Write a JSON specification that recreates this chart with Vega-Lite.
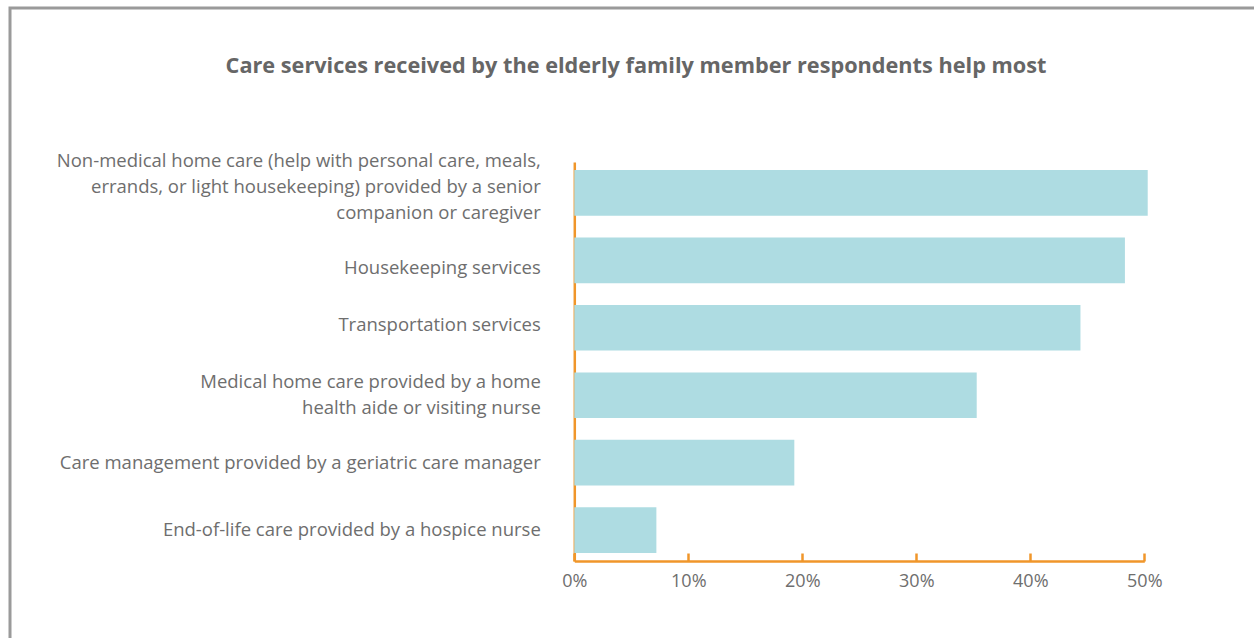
{
  "$schema": "https://vega.github.io/schema/vega-lite/v6.json",
  "width": 1252,
  "height": 640,
  "autosize": {"type": "none"},
  "padding": {"left": 10, "top": 8, "right": -8, "bottom": -10},
  "background": "white",
  "config": {
    "view": {"stroke": "#9a9a9a", "strokeWidth": 3},
    "font": "Open Sans"
  },
  "title": {
    "text": "Care services received by the elderly family member respondents help most",
    "font": "Open Sans",
    "fontSize": 21.7,
    "fontWeight": "bold",
    "color": "#666666",
    "anchor": "middle",
    "frame": "group",
    "offset": -70
  },
  "data": {
    "values": [
      {"service": "Non-medical home care (help with personal care, meals,|errands, or light housekeeping) provided by a senior|companion or caregiver", "share": 0.503},
      {"service": "Housekeeping services", "share": 0.483},
      {"service": "Transportation services", "share": 0.444},
      {"service": "Medical home care provided by a home|health aide or visiting nurse", "share": 0.353},
      {"service": "Care management provided by a geriatric care manager", "share": 0.193},
      {"service": "End-of-life care provided by a hospice nurse", "share": 0.072}
    ]
  },
  "mark": {"type": "bar", "color": "#AEDCE2"},
  "encoding": {
    "y": {
      "field": "service",
      "type": "nominal",
      "sort": null,
      "scale": {"range": [154, 553], "paddingInner": 0.3226, "paddingOuter": 0.119},
      "axis": {
        "title": null,
        "orient": "left",
        "offset": -564.3,
        "domainColor": "#F0962A",
        "domainWidth": 2.5,
        "ticks": false,
        "labelPadding": 34,
        "labelFont": "Open Sans",
        "labelFontSize": 18.5,
        "labelColor": "#6e6e6e",
        "labelLimit": 700,
        "labelLineHeight": 26,
        "labelExpr": "split(datum.label, '|')",
        "labelOffset": {"expr": "datum.value == 'Housekeeping services' ? 8 : (datum.value == 'Transportation services' ? -3 : -(length(split(datum.value, '|')) - 1) * 13 - (length(split(datum.value, '|')) > 2 ? 6 : 0))"}
      }
    },
    "x": {
      "field": "share",
      "type": "quantitative",
      "scale": {"domain": [0, 0.5], "range": [564.3, 1134.3], "nice": false, "zero": true},
      "axis": {
        "title": null,
        "orient": "bottom",
        "offset": -87,
        "values": [0, 0.1, 0.2, 0.3, 0.4, 0.5],
        "format": ".0%",
        "grid": false,
        "labelFlush": false,
        "domainColor": "#F0962A",
        "domainWidth": 2.5,
        "tickColor": "#F0962A",
        "tickWidth": 2.5,
        "tickSize": -8,
        "labelPadding": 19,
        "labelFont": "Open Sans",
        "labelFontSize": 18,
        "labelColor": "#6e6e6e"
      }
    }
  }
}
